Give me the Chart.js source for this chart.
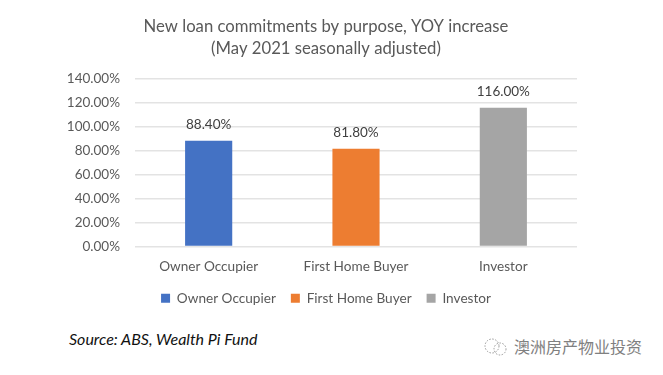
<!DOCTYPE html>
<html>
<head>
<meta charset="utf-8">
<script src="https://cdn.jsdelivr.net/npm/chart.js@4"></script>
<style>
  html, body { margin: 0; padding: 0; background: #fff; overflow: hidden; }
  #wrap { position: absolute; left: 0; top: 0; width: 652px; height: 320px; }
  #source { position: absolute; left: 69px; top: 329px; font: italic 16px Lato, sans-serif; color: #111; white-space: nowrap; }
  #mark { position: absolute; left: 514px; top: 336px; font: 16px "Noto Sans CJK SC", sans-serif; color: #808080; line-height: 20px; white-space: nowrap; }
  #icon { position: absolute; left: 481px; top: 336px; }
</style>
</head>
<body>
<div id="wrap"><canvas id="loanChart"></canvas></div>
<div id="source">Source: ABS, Wealth Pi Fund</div>
<svg id="icon" width="28" height="22" fill="none" stroke="#999" stroke-width="1" stroke-dasharray="1.5 1.5">
  <circle cx="11" cy="10" r="7"/><circle cx="19" cy="13" r="6"/>
</svg>
<div id="mark">澳洲房产物业投资</div>
<script>
// ── Data ──────────────────────────────────────────────────────
const categories = ['Owner Occupier', 'First Home Buyer', 'Investor'];
const ownerValues    = [88.4, null, null];
const firstHomeValues = [null, 81.8, null];
const investorValues = [null, null, 116];
const titleLines = ['New loan commitments by purpose, YOY increase', '(May 2021 seasonally adjusted)'];

const textGrey = '#595959';
const fontName = 'Lato, sans-serif';

// ── Label di atas bar ─────────────────────────────────────────
const barLabels = {
  id: 'barLabels',
  // biar label sumbu y ga kepotong, kotak sumbunya dilebarkan ke kiri
  afterLayout(chart) {
    chart.scales.y.left -= 15;
  },
  afterDatasetsDraw(chart) {
    const ctx = chart.ctx;
    ctx.save();
    ctx.font = '13.5px ' + fontName;
    ctx.fillStyle = '#404040';
    ctx.textAlign = 'center';
    ctx.textBaseline = 'bottom';
    chart.data.datasets.forEach((ds, i) => {
      chart.getDatasetMeta(i).data.forEach((bar, j) => {
        if (ds.data[j] == null) return;
        ctx.fillText(ds.data[j].toFixed(2) + '%', bar.x, bar.y - 9);
      });
    });
    ctx.restore();
  }
};

const makeSet = (label, data, color) => ({
  label: label,
  data: data,
  backgroundColor: color,
  barPercentage: 0.32,
  categoryPercentage: 1
});

new Chart(document.getElementById('loanChart'), {
  type: 'bar',
  data: {
    labels: categories,
    datasets: [
      makeSet('Owner Occupier', ownerValues, '#4472c4'),
      makeSet('First Home Buyer', firstHomeValues, '#ed7d31'),
      makeSet('Investor', investorValues, '#a5a5a5')
    ]
  },
  options: {
    responsive: true,
    maintainAspectRatio: false,
    animation: false,
    layout: { padding: { left: 75, right: 75, top: 15, bottom: 5 } },
    plugins: {
      title: {
        display: true,
        text: titleLines,
        color: textGrey,
        font: { family: fontName, size: 16.7, weight: 'normal', lineHeight: 1.35 },
        padding: { top: 0, bottom: 19 }
      },
      legend: {
        position: 'bottom',
        labels: {
          color: textGrey,
          font: { family: fontName, size: 13.6 },
          boxWidth: 9,
          boxHeight: 9,
          padding: 15
        }
      },
      tooltip: { enabled: false }
    },
    scales: {
      x: {
        stacked: true,
        grid: { display: false },
        border: { display: false },
        ticks: { color: textGrey, font: { family: fontName, size: 13.6 }, padding: 4 },
        afterFit(scale) { scale.height = 30; }
      },
      y: {
        stacked: true,
        min: 0,
        max: 140,
        grid: { color: '#e3e3e3', lineWidth: 1.5, drawTicks: false },
        border: { display: false },
        ticks: {
          stepSize: 20,
          color: textGrey,
          font: { family: fontName, size: 13.5 },
          padding: 15,
          callback: v => v.toFixed(2) + '%'
        },
        afterFit(scale) { scale.width = 60; }
      }
    }
  },
  plugins: [barLabels]
});
</script>
</body>
</html>
